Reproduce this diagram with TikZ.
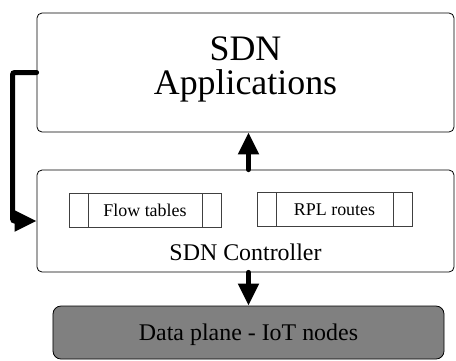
\documentclass[tikz,border=0pt]{standalone}
\usepackage{fontspec}
\setmainfont{Liberation Serif}
\newfontfamily\timesfont{Liberation Serif}
\usetikzlibrary{arrows.meta,calc,positioning}
\definecolor{planegray}{HTML}{808080}
\tikzset{
  layer/.style={draw, rounded corners=5bp, line width=0.8bp, minimum width=417bp, inner sep=0pt},
  tablebox/.style={draw=black!75, line width=0.8bp, minimum width=152bp, minimum height=34bp, inner sep=0pt,
    font=\timesfont\fontsize{18}{20}\selectfont,
    path picture={
      \draw[black!75, line width=0.8bp] ([xshift=19bp]path picture bounding box.north west) -- ([xshift=19bp]path picture bounding box.south west);
      \draw[black!75, line width=0.8bp] ([xshift=-19bp]path picture bounding box.north east) -- ([xshift=-19bp]path picture bounding box.south east);
    }},
  bigarrow/.style={line width=5bp, line cap=round, -{Triangle[length=22bp,width=20bp]}},
}
\begin{document}
\begin{tikzpicture}[x=1bp,y=-1bp]
\useasboundingbox (0,0) rectangle (456,360);
%Schichten
\node[layer, minimum height=119bp] (app) at (245.5,72.5) {};
\node[font=\timesfont\fontsize{36}{35}\selectfont, align=center] (apptext) at (245.5,69.5) {SDN\\Applications};
\node[layer, minimum height=102bp] (ctrl) at (245.5,221) {};
\node[font=\timesfont\fontsize{24}{28}\selectfont, anchor=base] (ctrltext) at (245.5,260.7) {SDN Controller};
\node[tablebox] (flow) at (145,210) {Flow tables};
\node[tablebox, minimum width=155bp] (rpl) at (334.5,209.5) {RPL routes};
\node[layer, fill=planegray, rounded corners=8bp, minimum width=391bp, minimum height=53bp,
  font=\timesfont\fontsize{24}{28}\selectfont, text depth=0pt] (data) at (248.5,332.5) {Data plane - IoT nodes};
%Pfeile
\draw[bigarrow] (ctrl.north -| data.north) -- (app.south -| data.north);
\draw[bigarrow] (ctrl.south -| data.north) -- (data.north);
\draw[bigarrow, rounded corners=2bp] (app.west) -- ++(-24,0) |- (ctrl.west);
\end{tikzpicture}
\end{document}
